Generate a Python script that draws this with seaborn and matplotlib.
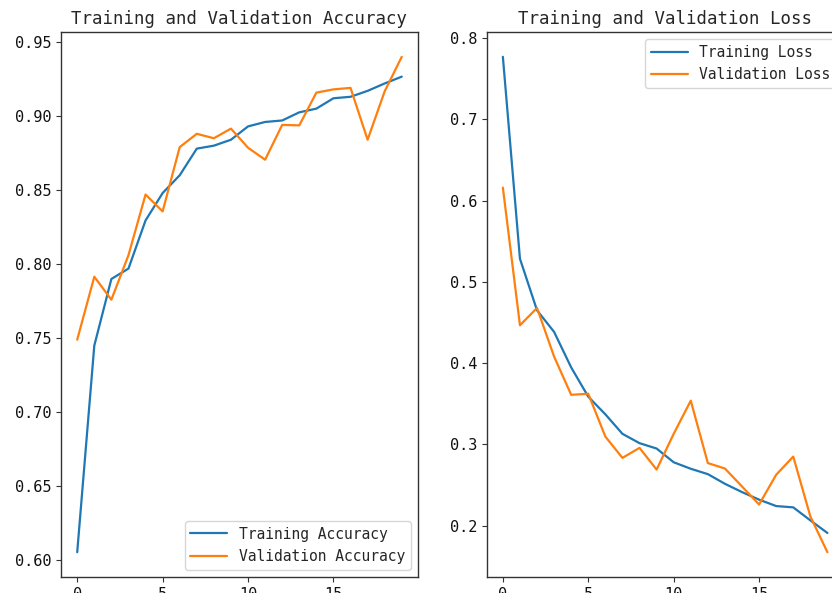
"""Training / validation accuracy and loss curves, side by side."""

import matplotlib
matplotlib.use('Agg')
import matplotlib.pyplot as plt
import seaborn as sns

epochs = list(range(20))

train_acc = [0.6055, 0.745, 0.790, 0.797, 0.8295, 0.848, 0.860, 0.878, 0.880, 0.884,
             0.893, 0.896, 0.897, 0.9025, 0.905, 0.912, 0.913, 0.917, 0.922, 0.9266]
val_acc = [0.749, 0.7915, 0.776, 0.806, 0.847, 0.8356, 0.879, 0.888, 0.885, 0.8915,
           0.8786, 0.8705, 0.894, 0.8937, 0.9158, 0.918, 0.919, 0.884, 0.9167, 0.940]

train_loss = [0.777, 0.5285, 0.465, 0.4384, 0.3947, 0.3587, 0.337, 0.313, 0.3015, 0.2949,
              0.278, 0.270, 0.2634, 0.2515, 0.2413, 0.232, 0.2241, 0.2225, 0.2065, 0.191]
val_loss = [0.616, 0.4466, 0.4679, 0.408, 0.361, 0.3623, 0.3096, 0.2834, 0.2957, 0.269,
            0.313, 0.3538, 0.277, 0.2703, 0.2482, 0.226, 0.2626, 0.285, 0.2114, 0.1673]

sns.set_style('ticks')
plt.rcParams['font.family'] = ['DejaVu Sans Mono', 'DejaVu Sans']
plt.rcParams['axes.edgecolor'] = '#333333'
plt.rcParams['xtick.color'] = '#333333'
plt.rcParams['ytick.color'] = '#333333'
plt.rcParams['xtick.labelcolor'] = '#111111'
plt.rcParams['ytick.labelcolor'] = '#111111'

colors = sns.color_palette('tab10')

fig = plt.figure(figsize=(8.32, 5.93), dpi=100)
# the picture is a crop: the right panel runs past the right edge
ax1 = fig.add_axes([0.0733, 0.027, 0.4291, 0.919])
ax2 = fig.add_axes([0.5849, 0.027, 0.4291, 0.919])

sns.lineplot(x=epochs, y=train_acc, ax=ax1, color=colors[0], linewidth=1.6,
             label='Training Accuracy')
sns.lineplot(x=epochs, y=val_acc, ax=ax1, color=colors[1], linewidth=1.6,
             label='Validation Accuracy')
ax1.set_title('Training and Validation Accuracy', fontsize=12.5)
ax1.legend(loc='lower right', fontsize=10.5, handlelength=2.5)

sns.lineplot(x=epochs, y=train_loss, ax=ax2, color=colors[0], linewidth=1.6,
             label='Training Loss')
sns.lineplot(x=epochs, y=val_loss, ax=ax2, color=colors[1], linewidth=1.6,
             label='Validation Loss')
ax2.set_title('Training and Validation Loss', fontsize=12.5)
ax2.legend(loc='upper right', fontsize=10.5, handlelength=2.5)

for ax in (ax1, ax2):
    ax.set_xticks([0, 5, 10, 15])
    ax.tick_params(labelsize=11, length=3.5, width=0.8)
    for side in ['top', 'right', 'left', 'bottom']:
        ax.spines[side].set_visible(True)
        ax.spines[side].set_linewidth(1.0)

ax2.set_yticks([0.2, 0.3, 0.4, 0.5, 0.6, 0.7, 0.8])

fig.savefig('out.png', dpi=100)
